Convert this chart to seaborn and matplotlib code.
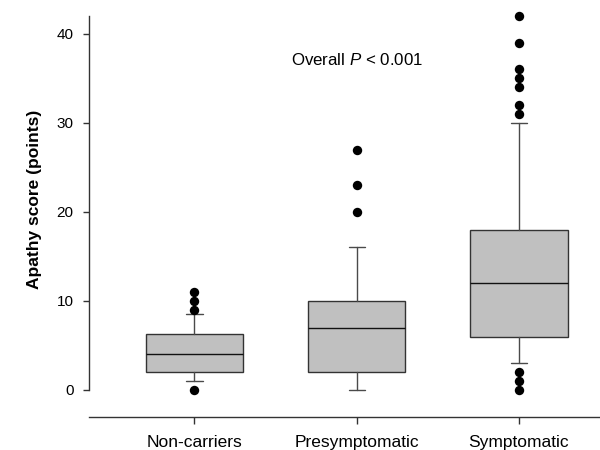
import matplotlib
matplotlib.use("Agg")
import matplotlib.pyplot as plt
import seaborn as sns
import pandas as pd

# Groups and box summary statistics (points)
groups = ["Non-carriers", "Presymptomatic", "Symptomatic"]
q1 = [2.0, 2.0, 6.0]
median = [4.0, 7.0, 12.0]
q3 = [6.25, 10.0, 18.0]
whisker_low = [1.0, 0.0, 3.0]
whisker_high = [8.5, 16.0, 30.0]

# Outlying scores per group
outliers_noncarriers = [0, 9, 10, 11]
outliers_presymptomatic = [20, 23, 27]
outliers_symptomatic = [0, 1, 2, 31, 32, 34, 35, 36, 39, 42]

y_ticks = [0, 10, 20, 30, 40]
annotation = "Overall $\\mathit{P}$ < 0.001"

sns.set_theme(style="ticks")
plt.rcParams["font.family"] = ["Liberation Sans", "DejaVu Sans"]
plt.rcParams["mathtext.fontset"] = "custom"
plt.rcParams["mathtext.rm"] = "Liberation Sans"
plt.rcParams["mathtext.it"] = "Liberation Sans:italic"
plt.rcParams["text.color"] = "black"
plt.rcParams["axes.labelcolor"] = "black"
plt.rcParams["xtick.color"] = "black"
plt.rcParams["ytick.color"] = "black"

fig = plt.figure(figsize=(6, 4.5), dpi=100)
ax = fig.add_axes([0.1483, 0.0740, 0.8517, 0.9104])

stats = []
for i, g in enumerate(groups):
    stats.append({
        "label": g, "q1": q1[i], "med": median[i], "q3": q3[i],
        "whislo": whisker_low[i], "whishi": whisker_high[i], "fliers": [],
    })

ax.bxp(
    stats, positions=range(len(groups)), widths=0.6, capwidths=0.1,
    showfliers=False, patch_artist=True,
    boxprops=dict(facecolor="#c0c0c0", edgecolor="#333333", linewidth=1.0),
    medianprops=dict(color="#111111", linewidth=1.0),
    whiskerprops=dict(color="#4a4a4a", linewidth=1.0),
    capprops=dict(color="#4a4a4a", linewidth=1.0),
)

flier_df = pd.DataFrame({
    "group": [0] * len(outliers_noncarriers)
    + [1] * len(outliers_presymptomatic)
    + [2] * len(outliers_symptomatic),
    "score": outliers_noncarriers + outliers_presymptomatic + outliers_symptomatic,
})
sns.scatterplot(data=flier_df, x="group", y="score", color="black",
                s=46, edgecolor="black", linewidth=0, ax=ax, zorder=5)

ax.set_xlim(-0.65, 2.5)
ax.set_ylim(-3, 43)
ax.set_yticks(y_ticks)
ax.set_xticks(range(len(groups)))
ax.set_xticklabels(groups, fontsize=12.5)
ax.tick_params(axis="y", labelsize=11, length=4.5, width=1, color="#333333",
               labelcolor="black", pad=6.5)
ax.tick_params(axis="x", length=5, width=1, color="#333333",
               labelcolor="black", pad=8)
ax.set_xlabel("")
ax.set_ylabel("Apathy score (points)", fontsize=12.5, fontweight="bold",
              color="black")
ax.yaxis.set_label_coords(-0.0926, 0.531)

for side in ["top", "right"]:
    ax.spines[side].set_visible(False)
ax.spines["left"].set_bounds(0, 42)
ax.spines["left"].set_color("#333333")
ax.spines["bottom"].set_color("#333333")
ax.spines["left"].set_linewidth(1)
ax.spines["bottom"].set_linewidth(1)

ax.text(1.0, 37.1, annotation, ha="center", va="center", fontsize=12.2,
        color="black")

fig.savefig("out.png", dpi=100)
